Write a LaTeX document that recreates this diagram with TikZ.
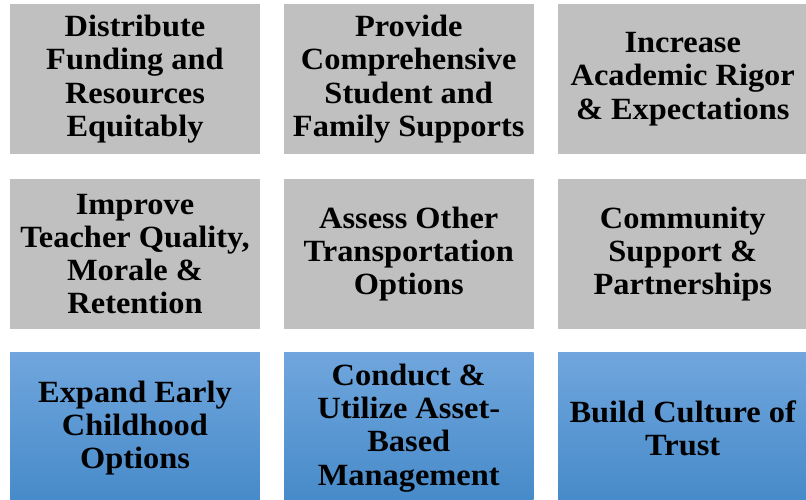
\documentclass[tikz,border=0pt]{standalone}
\usepackage{fontspec}
\setmainfont[FakeStretch=1.05]{Liberation Serif}
\definecolor{boxgray}{HTML}{C0C0C0}
\definecolor{bluetop}{HTML}{70A6DD}
\definecolor{bluebot}{HTML}{468AC9}
\tikzset{
  cell/.style={minimum width=249.5bp, minimum height=150bp, inner sep=0pt,
    align=center, font=\bfseries\fontsize{31}{33.4}\selectfont},
  graycell/.style={cell, fill=boxgray},
  bluecell/.style={cell, top color=bluetop, bottom color=bluebot}
}
\begin{document}
\begin{tikzpicture}[x=1bp,y=-1bp]
\useasboundingbox (0,0) rectangle (806,500);
\node[graycell] (a1) at (135,79) {Distribute\\Funding and\\Resources\\Equitably};
\node[graycell] (a2) at (408.75,79) {Provide\\Comprehensive\\Student and\\Family Supports};
\node[graycell] (a3) at (682.75,79) {Increase\\Academic Rigor\\\& Expectations};
\node[graycell] (b1) at (135,254) {Improve\\Teacher Quality,\\Morale \&\\Retention};
\node[graycell] (b2) at (408.75,254) {Assess Other\\Transportation\\Options};
\node[graycell] (b3) at (682.75,254) {Community\\Support \&\\Partnerships};
\node[bluecell] (c1) at (135,428) {Expand Early\\Childhood\\Options};
\node[bluecell] (c2) at (408.75,428) {Conduct \&\\Utilize Asset-\\Based\\Management};
\node[bluecell] (c3) at (682.75,428) {Build Culture of\\Trust};
\end{tikzpicture}
\end{document}
